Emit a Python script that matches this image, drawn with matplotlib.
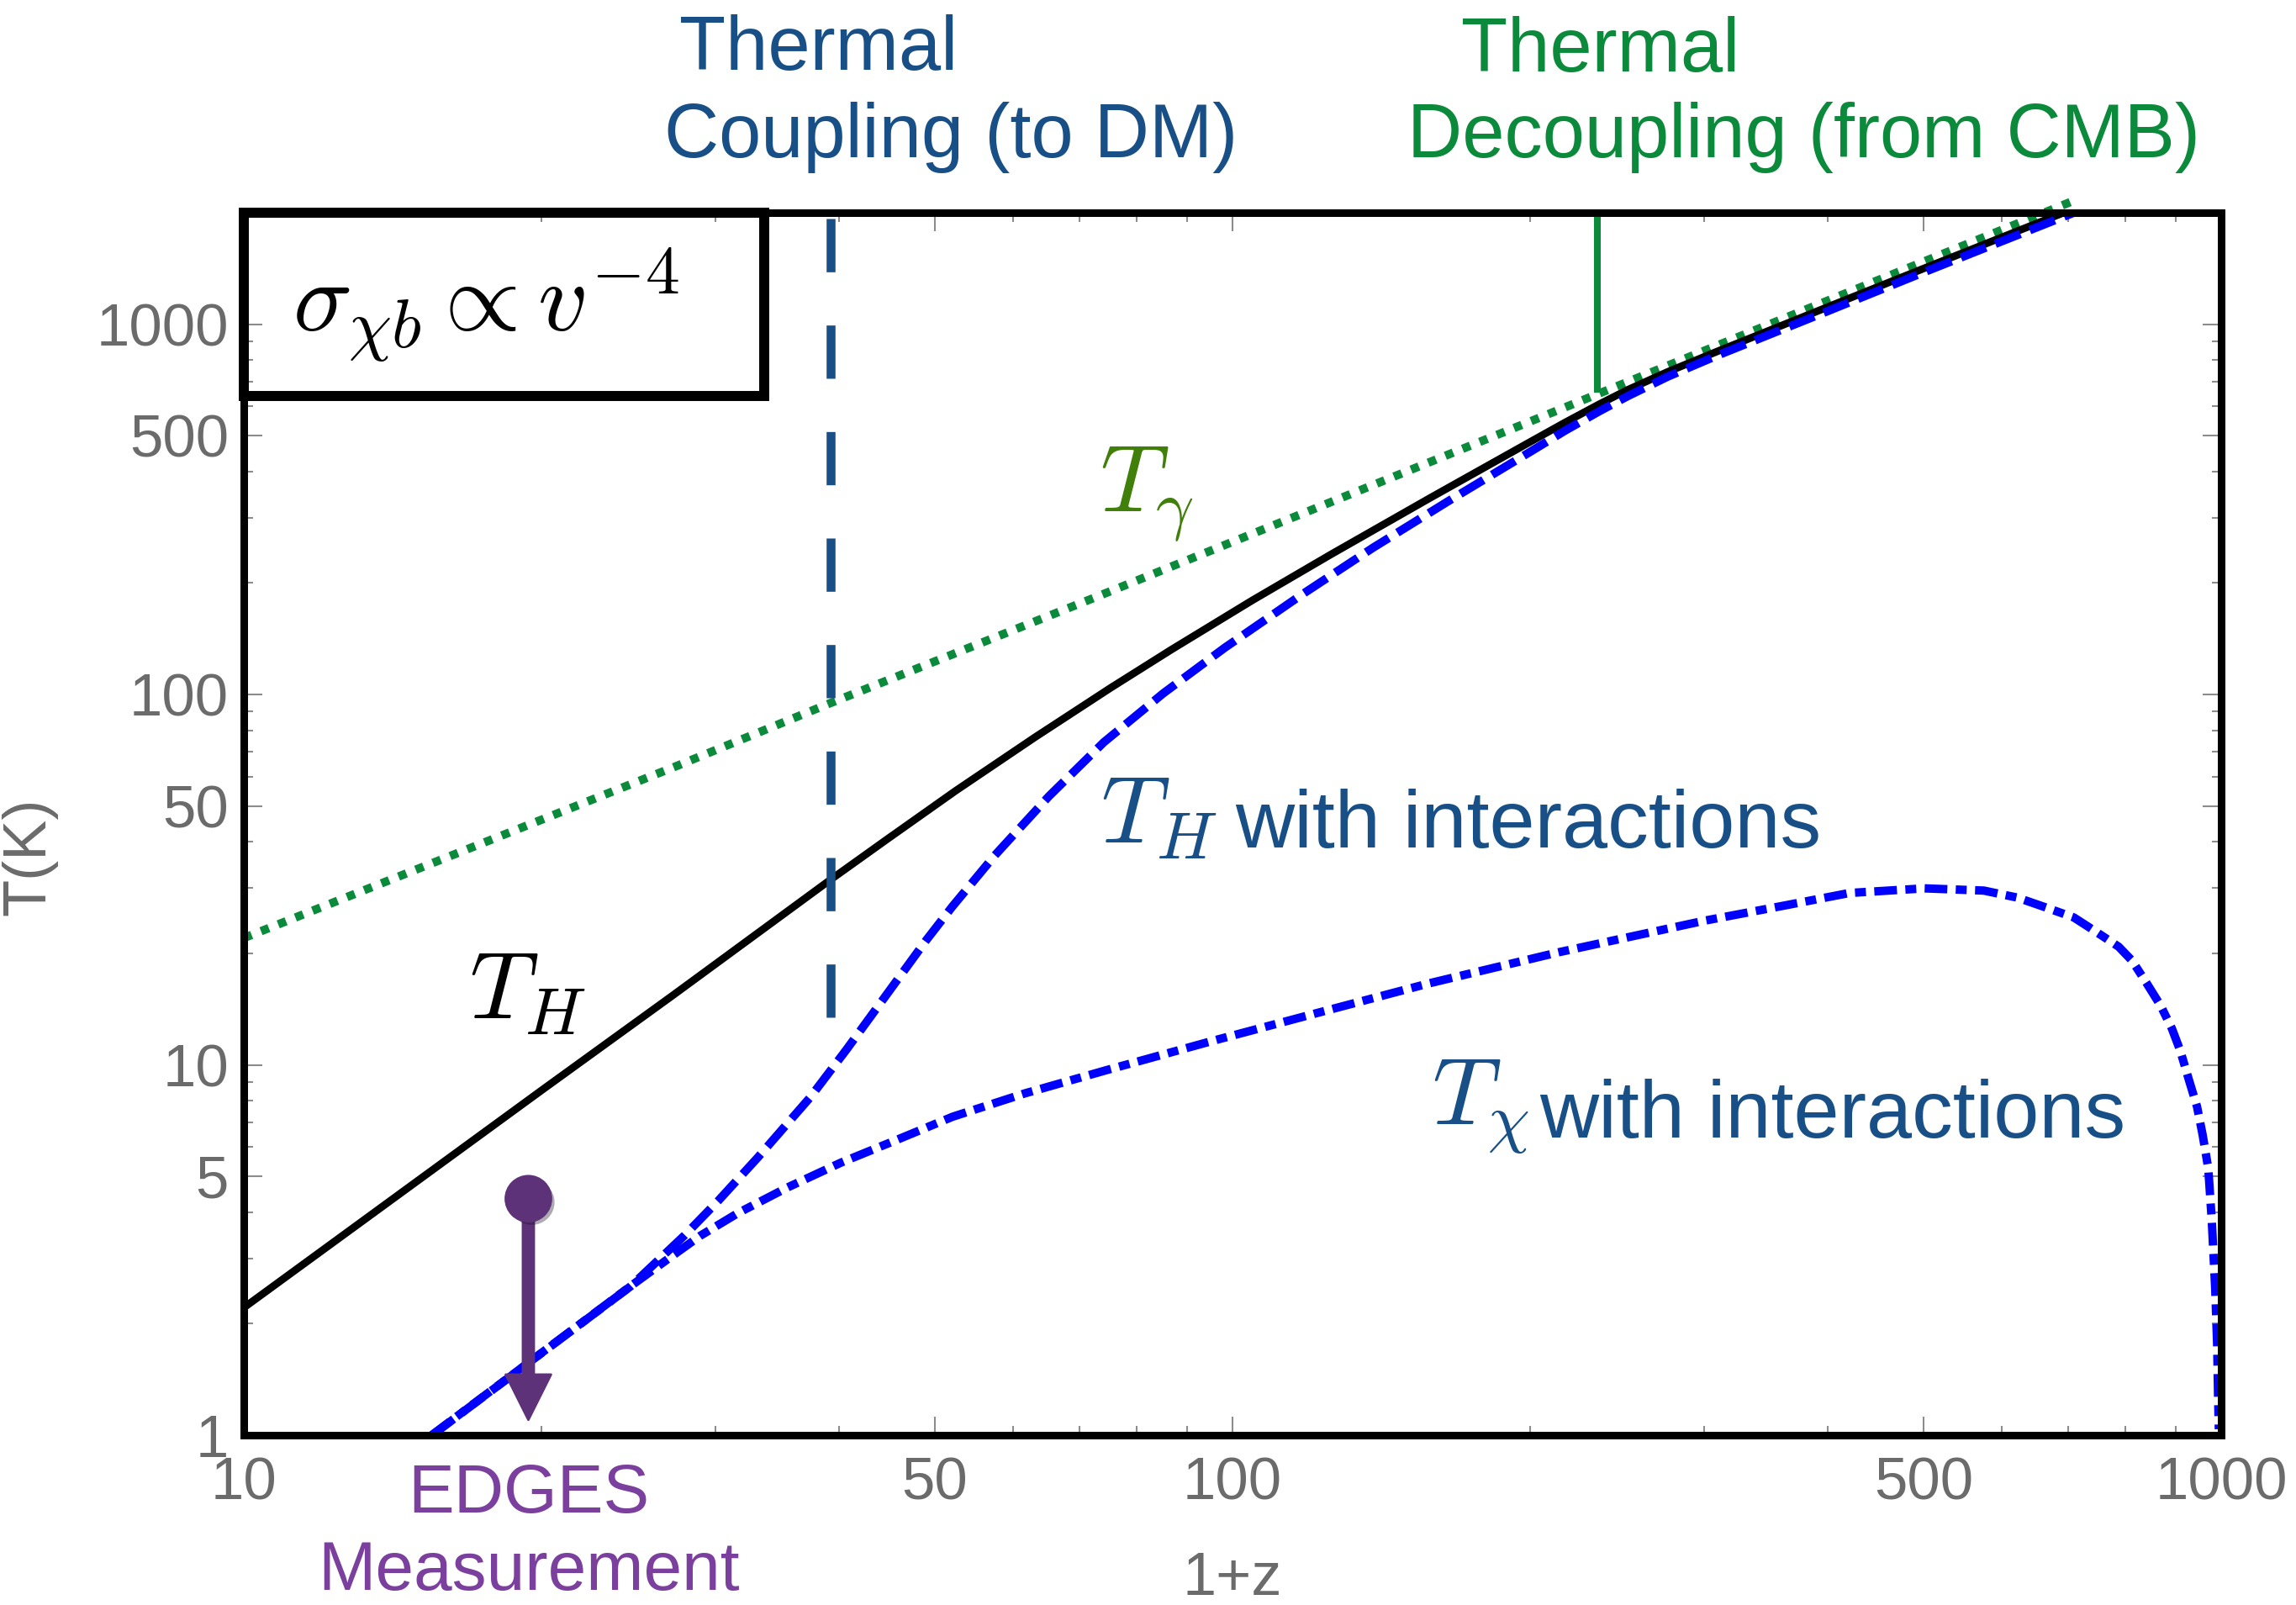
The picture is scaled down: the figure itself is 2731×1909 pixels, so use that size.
import matplotlib
matplotlib.use("Agg")
import matplotlib.pyplot as plt
import matplotlib.patheffects as pe
from matplotlib.patches import Rectangle

plt.rcParams["font.family"] = ["Liberation Sans", "DejaVu Sans"]
plt.rcParams["mathtext.fontset"] = "cm"

# temperatures (K) against 1+z
z_gamma = [10, 27.4, 39.2, 72.3, 198, 708]
T_gamma = [22.0, 64.1, 94.8, 182, 540, 2150]

z_H = [10, 20, 27.2, 39.2, 44.7, 52.5, 63.1, 75.2, 86.7, 104.7, 125.9, 158.5, 200, 216.8,
       235, 251.2, 275.4, 309.0, 398.1, 500, 707.9]
T_H = [2.21, 8.53, 15.45, 31.6, 40.6, 55.0, 76.6, 104.0, 132.1, 179.5, 239.3, 339.6, 480.8, 542,
       608.1, 665.3, 743.0, 843.3, 1107, 1413, 2046]

z_H_int = [15.5, 24.6, 27.9, 30.2, 33.1, 37.4, 40.7, 44.7, 49.0, 52.1, 57.5, 65.2, 74.1, 85.1,
           98.2, 117.5, 138.7, 166, 200, 216.8, 235, 251.2, 275.4, 309.0, 398.1, 500, 707.9]
T_H_int = [1.0, 2.52, 3.46, 4.30, 5.62, 8.17, 11.0, 15.5, 21.7, 26.8, 36.8, 53.1, 74.3, 100.7,
           133.7, 186, 249, 335, 452, 515.2, 582, 639.7, 721.1, 822.2, 1079, 1380, 1995]

z_chi = [15.49, 24.60, 26.92, 28.97, 31.62, 35.48, 40.18, 45.71, 52.12, 61.66, 74.64, 95.50,
         123.0, 158.1, 213.8, 299.9, 363.1, 420.7, 501.2, 575.4, 622.3, 664.6, 709.6, 742.6,
         787.7, 812.8, 840.6, 868.5, 891.3, 909.1, 926.8, 945.4, 957.8, 970.5, 978.4, 986.3,
         990.8, 993.1, 994.7]
T_chi = [1.00, 2.523, 3.006, 3.459, 3.981, 4.667, 5.445, 6.266, 7.244, 8.375, 9.683, 11.61,
         13.90, 16.60, 20.14, 24.49, 26.98, 29.11, 29.96, 29.55, 28.28, 26.61, 25.00, 23.12,
         20.84, 19.10, 16.62, 14.45, 12.56, 10.93, 9.183, 7.709, 6.471, 5.248, 3.80, 2.483,
         1.750, 1.236, 1.038]

# markers of the two epochs
z_couple, T_couple = 39.2, (1930, 12.9)
z_decouple, T_decouple = 234, (2000, 668)

# EDGES upper limit
edges_z, edges_T, edges_tip = 19.4, 4.35, 1.1

# corner box with the cross-section label
box_z, box_T = (10, 33.6), (641, 2000)

x_major = [10, 50, 100, 500, 1000]
x_minor = [20, 30, 40, 60, 70, 80, 90, 200, 300, 400, 600, 700, 800, 900]
y_major = [1, 5, 10, 50, 100, 500, 1000]
y_minor = [2, 3, 4, 6, 7, 8, 9, 20, 30, 40, 60, 70, 80, 90, 200, 300, 400, 600, 700, 800, 900]

BLUE_TXT = "#174f86"
GREEN = "#0a8a3a"
OLIVE = "#3f7f0a"
PURPLE_TXT = "#7b3f9e"
PURPLE = "#5e3278"
GRAY = "#6b6b6b"

fig = plt.figure(figsize=(13.655, 9.545), dpi=200)
ax = fig.add_axes([0.1062, 0.1058, 0.8612, 0.7617])
ax.set_xscale("log")
ax.set_yscale("log")
ax.set_xlim(10, 1000)
ax.set_ylim(1, 2000)

ax.plot(z_gamma, T_gamma, color=GREEN, lw=3.6, ls=(0, (1.0, 1.2)), dash_capstyle="butt",
        clip_on=False)
ax.plot(z_H, T_H, color="black", lw=3.2, solid_capstyle="butt", solid_joinstyle="round")
ax.plot(z_H_int, T_H_int, color="#0000ff", lw=3.6, ls=(0, (3.2, 1.2)), dash_capstyle="butt")
ax.plot(z_chi, T_chi, color="#0000ff", lw=3.6, ls=(0, (2.7, 1.0, 1.3, 1.0)), dash_capstyle="butt")

ax.plot([z_couple, z_couple], T_couple, color=BLUE_TXT, lw=3.8, ls=(0, (6, 6)), dash_capstyle="butt")
ax.plot([z_decouple, z_decouple], T_decouple, color=GREEN, lw=2.9)

# EDGES arrow + dot
ax.annotate("", xy=(edges_z, edges_tip), xytext=(edges_z, edges_T),
            arrowprops=dict(facecolor=PURPLE, edgecolor=PURPLE, width=4.7, headwidth=19.4,
                            headlength=19.4, shrink=0))
ax.plot(edges_z, edges_T, "o", ms=19.4, color=PURPLE, mec=PURPLE, zorder=5,
        path_effects=[pe.SimplePatchShadow(offset=(1.5, -1.5), alpha=0.35), pe.Normal()])

box = Rectangle((box_z[0], box_T[0]), box_z[1] - box_z[0], box_T[1] - box_T[0],
                fill=False, lw=4.3, ec="black", clip_on=False, zorder=6)
ax.add_patch(box)
ax.text(11.2, 959, r"$\sigma_{\chi b}\propto v^{-4}$", fontsize=42, va="baseline", ha="left")

# curve labels
ax.text(73.4, 313, r"$T_\gamma$", fontsize=41, color=OLIVE, va="baseline")
ax.text(16.9, 13.3, r"$T_H$", fontsize=41, color="black", va="baseline")
ax.text(73.6, 39.8, r"$T_H$", fontsize=41, color=BLUE_TXT, va="baseline")
ax.text(100.6, 38.6, "with interactions", fontsize=35, color=BLUE_TXT, va="baseline")
ax.text(159, 6.9, r"$T_\chi$", fontsize=41, color=BLUE_TXT, va="baseline")
ax.text(204.6, 6.38, "with interactions", fontsize=35, color=BLUE_TXT, va="baseline")

# epoch labels above the frame
fig.text(0.2959, 0.9565, "Thermal", fontsize=32.5, color=BLUE_TXT, va="baseline")
fig.text(0.2893, 0.9020, "Coupling (to DM)", fontsize=32.5, color=BLUE_TXT, va="baseline")
fig.text(0.6364, 0.9555, "Thermal", fontsize=32.5, color=GREEN, va="baseline")
fig.text(0.6130, 0.9020, "Decoupling (from CMB)", fontsize=32.5, color=GREEN, va="baseline")

fig.text(0.2303, 0.0576, "EDGES", fontsize=29.5, color=PURPLE_TXT, ha="center", va="baseline")
fig.text(0.2303, 0.0095, "Measurement", fontsize=29.5, color=PURPLE_TXT, ha="center", va="baseline")

fig.text(0.5368, 0.0063, "1+z", fontsize=26, color=GRAY, ha="center", va="baseline")
fig.text(0.0128, 0.4662, "T(K)", fontsize=26, color=GRAY, ha="center", va="center", rotation=90)

ax.set_xticks(x_major)
ax.set_xticks(x_minor, minor=True)
ax.set_xticklabels([str(v) for v in x_major])
ax.set_xticklabels([], minor=True)
ax.set_yticks(y_major)
ax.set_yticks(y_minor, minor=True)
ax.set_yticklabels([str(v) for v in y_major])
ax.set_yticklabels([], minor=True)

ax.tick_params(which="both", direction="in", top=True, right=True, color="#8c8c8c",
               width=0.75, labelsize=25.5, labelcolor=GRAY)
ax.tick_params(which="major", length=8)
ax.tick_params(which="minor", length=4)
ax.tick_params(axis="x", which="major", pad=9)
ax.tick_params(axis="y", which="major", pad=6.5)

for sp in ax.spines.values():
    sp.set_linewidth(3.24)
    sp.set_color("black")

fig.savefig("out.png", dpi=200)
